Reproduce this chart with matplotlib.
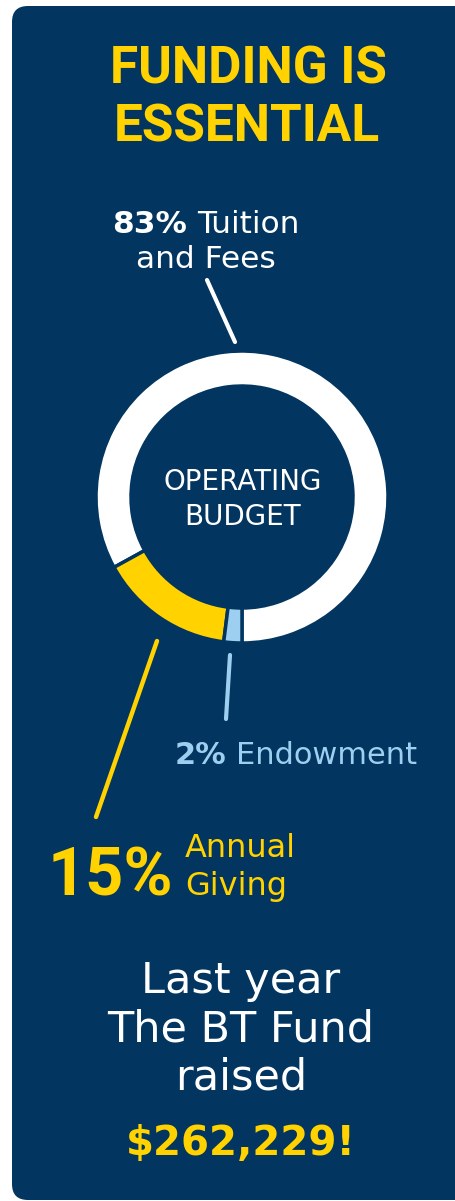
# funding infographic: operating budget donut with callouts
import matplotlib
matplotlib.use("Agg")
import matplotlib.pyplot as plt
from matplotlib.patches import FancyBboxPatch

# data
sources = ["Tuition and Fees", "Annual Giving", "Endowment"]
shares = [83, 15, 2]
slice_colors = ["#ffffff", "#ffd200", "#9dcff0"]
fund_raised = 262229

W, H = 456, 1201
navy = "#02355f"
yellow = "#ffd200"
light_blue = "#9dcff0"

fig = plt.figure(figsize=(W / 100, H / 100), dpi=100)
fig.patch.set_facecolor("white")
ax = fig.add_axes([0, 0, 1, 1])
ax.set_xlim(0, W)
ax.set_ylim(H, 0)
ax.axis("off")

# navy card with rounded corners
card = FancyBboxPatch((12, 6), 480, 1194, boxstyle="round,pad=0,rounding_size=16",
                      facecolor=navy, edgecolor="none")
ax.add_patch(card)

renderer = fig.canvas.get_renderer()


def put(x, y, s, size, color, weight="normal", family="DejaVu Sans", ha="center"):
    return ax.text(x, y, s, fontsize=size, color=color, fontweight=weight,
                   family=family, ha=ha, va="baseline")


def put_mixed(x, y, parts, size, color, ha="center"):
    # parts: list of (text, weight), spaced by one space width
    objs = [put(0, y, s, size, color, w, ha="left") for s, w in parts]
    gap = 0.318 * size / 0.72
    widths = [o.get_window_extent(renderer).width for o in objs]
    total = sum(widths) + gap * (len(objs) - 1)
    left = x - total / 2 if ha == "center" else x
    for o, w in zip(objs, widths):
        o.set_x(left)
        left += w + gap


# title
put(248, 83, "FUNDING IS", 37, yellow, "bold", "Roboto")
put(247, 142, "ESSENTIAL", 37, yellow, "bold", "Roboto")

# donut chart
cx, cy, r = 242, 497, 146
pie_ax = fig.add_axes([(cx - r) / W, (H - cy - r) / H, 2 * r / W, 2 * r / H])
wedges, _ = pie_ax.pie(shares, colors=slice_colors, startangle=-90, counterclock=True,
                       radius=1, wedgeprops=dict(width=35 / r, edgecolor=navy, linewidth=2.5))
for w in wedges:
    w.set_clip_on(False)
pie_ax.set_xlim(-1, 1)
pie_ax.set_ylim(-1, 1)
pie_ax.set_aspect("auto")
pie_ax.axis("off")

put(243, 490, "OPERATING", 20, "white")
put(243, 525, "BUDGET", 20, "white")

# tuition label + leader
put_mixed(206, 233, [(f"{shares[0]}%", "bold"), ("Tuition", "normal")], 22.5, "white")
put(206, 268, "and Fees", 22.5, "white")
ax.plot([207, 235], [280, 342], color="white", lw=3, solid_capstyle="round")

# endowment label + leader
put_mixed(175, 764, [(f"{shares[2]}%", "bold"), (sources[2], "normal")], 22, light_blue, ha="left")
ax.plot([230, 226], [655, 719], color=light_blue, lw=3, solid_capstyle="round")

# annual giving label + leader
put(48, 895, f"{shares[1]}%", 48, yellow, "bold", "Roboto", ha="left")
put(185, 857, "Annual", 23, yellow, ha="left")
put(185, 895, "Giving", 23, yellow, ha="left")
ax.plot([157, 96], [641, 817], color=yellow, lw=3.2, solid_capstyle="round")

# bottom message
put(241, 993, "Last year", 31, "white")
put(241, 1042, "The BT Fund", 31, "white")
put(241, 1090, "raised", 31, "white")
put(241, 1155, f"${fund_raised:,}!", 29, yellow, "bold")

fig.savefig("out.png", dpi=100, facecolor="white")
